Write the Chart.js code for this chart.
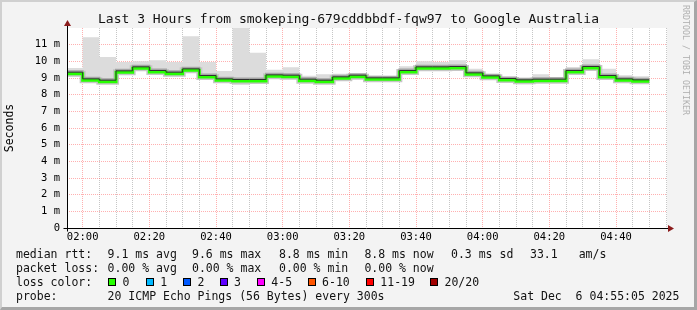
<!DOCTYPE html>
<html>
<head>
<meta charset="utf-8">
<title>SmokePing - Google Australia</title>
<script src="https://cdn.jsdelivr.net/npm/chart.js@4.4.0/dist/chart.umd.min.js"></script>
<style>
  html, body { margin: 0; padding: 0; }
  body {
    width: 697px; height: 310px; overflow: hidden; position: relative;
    background: #f3f3f3; color: #111;
    font-family: 'DejaVu Sans Mono', monospace;
  }
  #frame {
    position: absolute; left: 0; top: 0; width: 697px; height: 310px; box-sizing: border-box;
    border-top: 2px solid #d0d0d0; border-left: 2px solid #d0d0d0;
    border-right: 3px solid #a6a6a6; border-bottom: 3px solid #a6a6a6;
  }
  canvas { position: absolute; left: 0; top: 0; }
  .title { position: absolute; left: 0; top: 11px; width: 697px; text-align: center; font-size: 13px; line-height: 16px; white-space: pre; }
  .t { position: absolute; white-space: pre; font-size: 11.5px; line-height: 14px; }
  .box { position: absolute; width: 8px; height: 8px; box-sizing: border-box; border: 1px solid #000; }
  .credit {
    position: absolute; left: 691px; top: 5px; white-space: pre; color: #b0b0b0;
    font-size: 8.3px; line-height: 10px; transform: rotate(90deg); transform-origin: 0 0;
  }
</style>
</head>
<body>
<div id="frame"></div>
<canvas id="smoke-chart" width="697" height="310"></canvas>
<div class="title">Last 3 Hours from smokeping-679cddbbdf-fqw97 to Google Australia</div>
<div class="credit">RRDTOOL / TOBI OETIKER</div>

<div class="t" style="left:16px;top:247px">median rtt:</div>
<div class="t" style="left:107.6px;top:247px">9.1 ms avg</div>
<div class="t" style="left:192px;top:247px">9.6 ms max</div>
<div class="t" style="left:279px;top:247px">8.8 ms min</div>
<div class="t" style="left:364.4px;top:247px">8.8 ms now</div>
<div class="t" style="left:451px;top:247px">0.3 ms sd</div>
<div class="t" style="left:530px;top:247px">33.1</div>
<div class="t" style="left:578.7px;top:247px">am/s</div>

<div class="t" style="left:16px;top:261px">packet loss:</div>
<div class="t" style="left:107.6px;top:261px">0.00 % avg</div>
<div class="t" style="left:192px;top:261px">0.00 % max</div>
<div class="t" style="left:279px;top:261px">0.00 % min</div>
<div class="t" style="left:364.4px;top:261px">0.00 % now</div>

<div class="t" style="left:16px;top:275px">loss color:</div>
<div id="loss-legend"></div>

<div class="t" style="left:16px;top:289px">probe:</div>
<div class="t" style="left:107.6px;top:289px">20 ICMP Echo Pings (56 Bytes) every 300s</div>
<div class="t" style="left:513.3px;top:289px">Sat Dec  6 04:55:05 2025</div>

<script>
// 5 minute steps, start time of each step
const timeSlots = ['01:55', '02:00', '02:05', '02:10', '02:15', '02:20', '02:25', '02:30', '02:35', '02:40',
  '02:45', '02:50', '02:55', '03:00', '03:05', '03:10', '03:15', '03:20', '03:25', '03:30',
  '03:35', '03:40', '03:45', '03:50', '03:55', '04:00', '04:05', '04:10', '04:15', '04:20',
  '04:25', '04:30', '04:35', '04:40', '04:45'];

// median rtt in ms
const medianRtt = [9.26, 8.86, 8.78, 9.34, 9.58, 9.36, 9.26, 9.46, 9.06, 8.86,
  8.82, 8.82, 9.10, 9.08, 8.84, 8.78, 8.98, 9.08, 8.92, 8.92,
  9.36, 9.58, 9.58, 9.60, 9.22, 9.04, 8.88, 8.80, 8.84, 8.84,
  9.36, 9.60, 9.06, 8.86, 8.80];

// smoke: highest and lowest ping of each step, ms
const smokeMax = [9.60, 11.45, 10.26, 9.96, 10.00, 10.06, 9.96, 11.50, 9.96, 9.42,
  12.30, 10.52, 9.50, 9.64, 9.14, 9.22, 9.26, 9.26, 9.14, 9.06,
  9.70, 10.00, 9.96, 10.06, 9.56, 9.16, 9.02, 8.96, 9.22, 9.06,
  9.66, 10.12, 9.56, 9.16, 9.10];
const smokeMin = [9.10, 8.74, 8.66, 9.22, 9.46, 9.26, 9.10, 9.34, 8.94, 8.78,
  8.58, 8.66, 9.02, 8.98, 8.78, 8.70, 8.90, 9.00, 8.84, 8.86,
  9.22, 9.46, 9.48, 9.50, 9.10, 8.90, 8.80, 8.62, 8.70, 8.76,
  9.22, 9.42, 8.90, 8.74, 8.70];

const xTickLabels = ['02:00', '02:20', '02:40', '03:00', '03:20', '03:40', '04:00', '04:20', '04:40'];
const yTickLabels = ['0', '1 m', '2 m', '3 m', '4 m', '5 m', '6 m', '7 m', '8 m', '9 m', '10 m', '11 m'];

const lossLabels = ['0', '1', '2', '3', '4-5', '6-10', '11-19', '20/20'];
const lossColors = ['#26ff00', '#00b8ff', '#0059ff', '#5e00ff', '#ff00ff', '#ff5500', '#ff0000', '#a10000'];

const STEP = 5;
const toMin = s => { const p = s.split(':').map(Number); return p[0] * 60 + p[1]; };

// stepped points: one point per step start, plus the end of the last step
// (chart.js 'before' stepping keeps the previous value until the next point)
function steps(values) {
  const pts = values.map((v, i) => ({ x: toMin(timeSlots[i]), y: v }));
  const last = values.length - 1;
  pts.push({ x: toMin(timeSlots[last]) + STEP, y: values[last] });
  return pts;
}

// loss colour legend (boxes + labels)
const boxX = [108, 145.7, 183, 219.5, 256.8, 307.6, 365.8, 430];
const legendEl = document.getElementById('loss-legend');
lossLabels.forEach((lbl, i) => {
  const b = document.createElement('div');
  b.className = 'box';
  b.style.left = boxX[i] + 'px';
  b.style.top = '278px';
  b.style.background = lossColors[i];
  legendEl.appendChild(b);
  const t = document.createElement('div');
  t.className = 't';
  t.style.left = (boxX[i] + 14.5) + 'px';
  t.style.top = '275px';
  t.textContent = lbl;
  legendEl.appendChild(t);
});

const RED_GRID = 'rgba(255, 80, 80, 0.45)';
const GRAY_GRID = 'rgba(160, 160, 160, 0.6)';
const MONO = "'DejaVu Sans Mono', monospace";

// white plot area
const plotBg = {
  id: 'plotBg',
  beforeDraw(chart) {
    const { ctx, chartArea: a } = chart;
    ctx.save();
    ctx.fillStyle = '#ffffff';
    ctx.fillRect(a.left, a.top, a.right - a.left, a.bottom - a.top);
    ctx.restore();
  }
};

// nudge some line datasets a few pixels up/down
const shiftLines = {
  id: 'shiftLines',
  beforeDatasetDraw(chart, args) {
    const ds = chart.data.datasets[args.index];
    chart.ctx.save();
    if (ds.shiftY) chart.ctx.translate(0, ds.shiftY);
  },
  afterDatasetDraw(chart) {
    chart.ctx.restore();
  }
};

// rrdtool style axis arrows
const axisArrows = {
  id: 'axisArrows',
  afterDraw(chart) {
    const { ctx, chartArea: a } = chart;
    const x0 = Math.round(a.left) + 0.5;
    const y0 = Math.round(a.bottom) + 0.5;
    ctx.save();
    ctx.strokeStyle = '#000';
    ctx.lineWidth = 1;
    ctx.beginPath();
    ctx.moveTo(x0, y0 + 3);
    ctx.lineTo(x0, 24);
    ctx.moveTo(x0 - 4, y0);
    ctx.lineTo(a.right + 2, y0);
    ctx.stroke();
    ctx.fillStyle = '#8b1c1c';
    ctx.beginPath();
    ctx.moveTo(x0 - 3.5, 26);
    ctx.lineTo(x0 + 3.5, 26);
    ctx.lineTo(x0, 20);
    ctx.closePath();
    ctx.fill();
    ctx.beginPath();
    ctx.moveTo(a.right + 1, y0 - 3.5);
    ctx.lineTo(a.right + 1, y0 + 3.5);
    ctx.lineTo(a.right + 7, y0);
    ctx.closePath();
    ctx.fill();
    ctx.restore();
  }
};

const stepLine = { stepped: 'before', pointRadius: 0, fill: false, tension: 0 };

new Chart(document.getElementById('smoke-chart'), {
  type: 'line',
  data: {
    datasets: [
      Object.assign({}, stepLine, {
        label: 'smoke max', data: steps(smokeMax), borderWidth: 0, borderColor: 'rgba(0,0,0,0)',
        fill: '+1', backgroundColor: '#dcdcdc', order: 6
      }),
      Object.assign({}, stepLine, {
        label: 'smoke min', data: steps(smokeMin), borderWidth: 0, borderColor: 'rgba(0,0,0,0)', order: 7
      }),
      Object.assign({}, stepLine, {
        label: 'inner smoke', data: steps(medianRtt), borderWidth: 6, borderColor: '#c6c6c6', order: 5
      }),
      Object.assign({}, stepLine, {
        label: 'inner smoke dark', data: steps(medianRtt), borderWidth: 2, borderColor: '#a4a4a4', shiftY: -2.5, order: 4
      }),
      Object.assign({}, stepLine, {
        label: 'median', data: steps(medianRtt), borderWidth: 3, borderColor: lossColors[0], order: 2
      }),
      Object.assign({}, stepLine, {
        label: 'median edge', data: steps(medianRtt), borderWidth: 1, borderColor: '#303030', shiftY: -1.5, order: 1
      })
    ]
  },
  options: {
    responsive: false,
    animation: false,
    events: [],
    layout: { padding: { top: 28, right: 30, bottom: 62, left: 0 } },
    plugins: { legend: { display: false }, tooltip: { enabled: false }, title: { display: false } },
    scales: {
      x: {
        type: 'linear',
        min: 115.3,
        max: 295.3,
        afterFit(scale) { scale.height = 20; },
        afterBuildTicks(scale) {
          const ticks = [];
          for (let v = toMin(xTickLabels[0]); v <= scale.max; v += STEP) ticks.push({ value: v });
          scale.ticks = ticks;
        },
        ticks: {
          autoSkip: false,
          maxRotation: 0,
          padding: 3,
          color: '#000',
          font: { family: MONO, size: 10.5 },
          callback(v) {
            const lbl = xTickLabels.find(s => toMin(s) === v);
            return lbl || '';
          }
        },
        grid: {
          drawTicks: false,
          lineWidth: 1,
          color(ctx) {
            if (!ctx.tick) return GRAY_GRID;
            return xTickLabels.some(s => toMin(s) === ctx.tick.value) ? RED_GRID : GRAY_GRID;
          }
        },
        border: { display: false, dash: [1, 1] }
      },
      y: {
        min: 0,
        max: 12,
        afterFit(scale) { scale.width = 67; },
        afterBuildTicks(scale) {
          const ticks = [];
          for (let i = 0; i < yTickLabels.length; i++) {
            ticks.push({ value: i });
            ticks.push({ value: i + 0.5 });
          }
          scale.ticks = ticks;
        },
        ticks: {
          padding: 7,
          color: '#000',
          font: { family: MONO, size: 10.5 },
          callback(v) {
            return Number.isInteger(v) ? (yTickLabels[v] || '') : '';
          }
        },
        grid: {
          drawTicks: false,
          lineWidth: 1,
          color(ctx) {
            if (!ctx.tick) return GRAY_GRID;
            if (ctx.tick.value === 0) return 'rgba(0,0,0,0)';
            return Number.isInteger(ctx.tick.value) ? RED_GRID : GRAY_GRID;
          }
        },
        border: { display: false, dash: [1, 1] },
        title: {
          display: true,
          text: 'Seconds',
          color: '#000',
          font: { family: MONO, size: 11.5 },
          padding: { top: 3, bottom: 0 }
        }
      }
    }
  },
  plugins: [plotBg, shiftLines, axisArrows]
});
</script>
</body>
</html>
